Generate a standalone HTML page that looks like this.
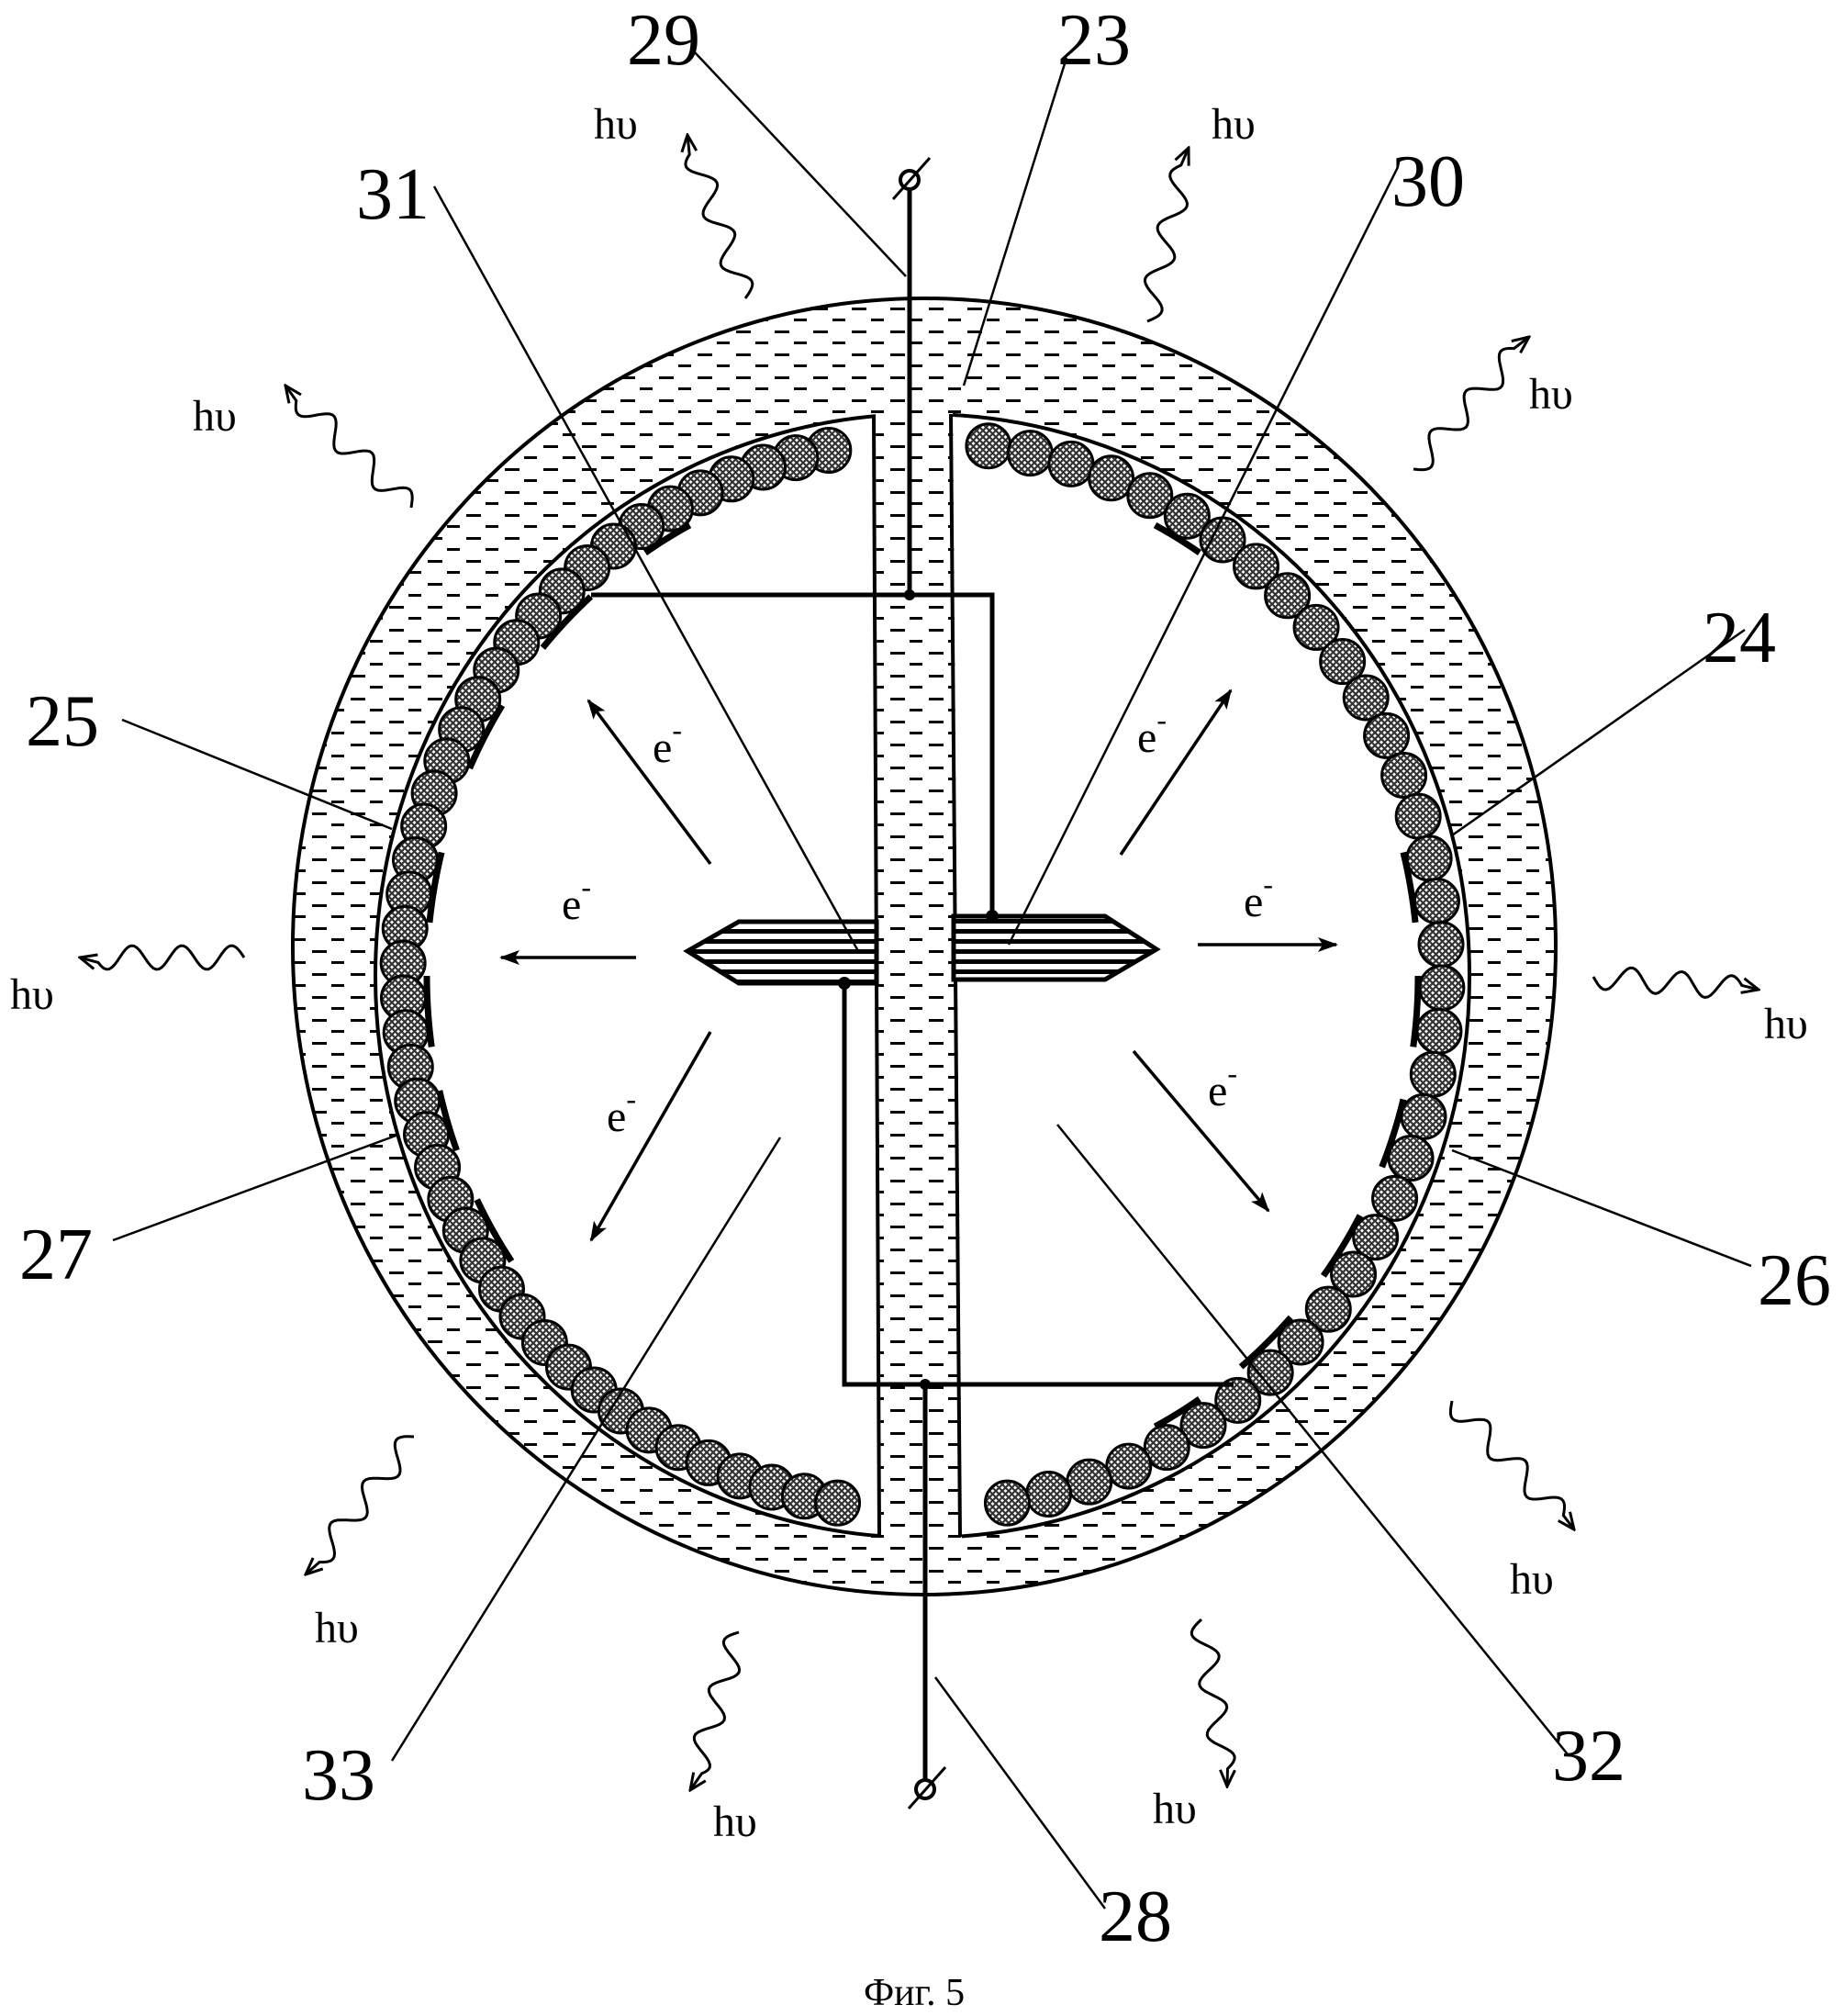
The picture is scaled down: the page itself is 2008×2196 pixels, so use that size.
<!DOCTYPE html>
<html><head><meta charset="utf-8"><style>
html,body{margin:0;padding:0;background:#fff}
svg{display:block}
text{font-family:"Liberation Serif",serif;fill:#000}
.n{font-size:80px}
.h{font-size:48px}
.e{font-size:48px}
</style></head><body>
<svg id="s" width="2008" height="2196" viewBox="0 0 2008 2196" xmlns="http://www.w3.org/2000/svg">
<defs>
<pattern id="dash" width="42" height="25" patternUnits="userSpaceOnUse">
<rect x="4" y="10" width="16" height="3" fill="#000"/>
<rect x="25" y="22" width="14" height="3" fill="#000"/>
</pattern>
<pattern id="xh" width="7" height="7" patternUnits="userSpaceOnUse">
<rect width="7" height="7" fill="#fff"/>
<path d="M0,0L7,7M7,0L0,7" stroke="#333" stroke-width="2.2"/>
</pattern>
<pattern id="hatch" width="20" height="11" patternUnits="userSpaceOnUse">
<rect width="20" height="11" fill="#fff"/>
<rect y="0" width="20" height="5" fill="#000"/>
</pattern>
<marker id="af" markerWidth="22" markerHeight="16" refX="20" refY="8" orient="auto" markerUnits="userSpaceOnUse">
<path d="M0,0L22,8L0,16L5,8Z" fill="#000"/>
</marker>
<marker id="aw" markerWidth="22" markerHeight="20" refX="20" refY="10" orient="auto" markerUnits="userSpaceOnUse">
<path d="M2,2L20,10L2,18" fill="none" stroke="#000" stroke-width="3"/>
</marker>
</defs>
<ellipse cx="1007" cy="1031" rx="688" ry="706" fill="url(#dash)" stroke="#000" stroke-width="4"/>
<ellipse cx="1005" cy="1063" rx="596" ry="612" fill="#fff" stroke="#000" stroke-width="4"/>
<polygon points="954,440 1038,440 1048,1690 960,1690" fill="#fff"/>
<polygon points="954,440 1038,440 1048,1690 960,1690" fill="url(#dash)"/>
<g stroke="#000" stroke-width="4">
<line x1="952" y1="452" x2="958" y2="1674"/>
<line x1="1036" y1="451" x2="1046" y2="1674"/>
</g>
<g id="grains"></g>
<path d="M749,1036 L805,1004 L955,1004 L955,1071 L805,1071 Z" fill="url(#hatch)" stroke="#000" stroke-width="5"/>
<path d="M1039,998 L1204,998 L1260,1034 L1204,1067 L1039,1067 Z" fill="url(#hatch)" stroke="#000" stroke-width="5"/>
<g stroke="#000" stroke-width="5" fill="none">
<polyline points="1081,998 1081,648 644,648"/>
<polyline points="920,1071 920,1508 1344,1508"/>
<line x1="991" y1="648" x2="991" y2="206"/>
<line x1="1008" y1="1508" x2="1008" y2="1939"/>
</g>
<circle cx="991" cy="648" r="6"/><circle cx="1081" cy="998" r="7"/><circle cx="920" cy="1071" r="7"/><circle cx="1008" cy="1508" r="6"/>
<circle cx="991" cy="196" r="10" fill="#fff" stroke="#000" stroke-width="4"/>
<line x1="973" y1="217" x2="1013" y2="172" stroke="#000" stroke-width="3"/>
<circle cx="1008" cy="1949" r="10" fill="#fff" stroke="#000" stroke-width="4"/>
<line x1="990" y1="1970" x2="1030" y2="1925" stroke="#000" stroke-width="3"/>
<g stroke="#000" stroke-width="2.5">
<line x1="756" y1="56" x2="987" y2="301"/>
<line x1="1162" y1="63" x2="1050" y2="420"/>
<line x1="473" y1="203" x2="935" y2="1036"/>
<line x1="1523" y1="182" x2="1099" y2="1029"/>
<line x1="1901" y1="686" x2="1582" y2="910"/>
<line x1="133" y1="784" x2="427" y2="903"/>
<line x1="123" y1="1351" x2="434" y2="1236"/>
<line x1="1908" y1="1379" x2="1582" y2="1253"/>
<line x1="427" y1="1918" x2="850" y2="1239"/>
<line x1="1708" y1="1911" x2="1152" y2="1225"/>
<line x1="1204" y1="2079" x2="1019" y2="1827"/>
</g>
<g stroke="#000" stroke-width="3.5" marker-end="url(#af)">
<line x1="774" y1="941" x2="641" y2="763"/>
<line x1="693" y1="1043" x2="546" y2="1043"/>
<line x1="774" y1="1124" x2="644" y2="1351"/>
<line x1="1221" y1="931" x2="1341" y2="752"/>
<line x1="1305" y1="1029" x2="1456" y2="1029"/>
<line x1="1235" y1="1145" x2="1382" y2="1319"/>
</g>
<g class="e">
<text x="711" y="830">e<tspan dy="-24" font-size="32">-</tspan></text>
<text x="612" y="1001">e<tspan dy="-24" font-size="32">-</tspan></text>
<text x="661" y="1232">e<tspan dy="-24" font-size="32">-</tspan></text>
<text x="1239" y="819">e<tspan dy="-24" font-size="32">-</tspan></text>
<text x="1355" y="998">e<tspan dy="-24" font-size="32">-</tspan></text>
<text x="1316" y="1204">e<tspan dy="-24" font-size="32">-</tspan></text>
</g>
<g id="waves" stroke="#000" stroke-width="3" fill="none"></g>
<g class="h">
<text x="647" y="151">hυ</text>
<text x="1320" y="151">hυ</text>
<text x="1666" y="445">hυ</text>
<text x="210" y="469">hυ</text>
<text x="11" y="1099">hυ</text>
<text x="1922" y="1131">hυ</text>
<text x="343" y="1789">hυ</text>
<text x="1645" y="1736">hυ</text>
<text x="777" y="2000">hυ</text>
<text x="1256" y="1986">hυ</text>
</g>
<g class="n">
<text x="683" y="70">29</text>
<text x="1152" y="70">23</text>
<text x="388" y="238">31</text>
<text x="1516" y="224">30</text>
<text x="1855" y="721">24</text>
<text x="28" y="812">25</text>
<text x="21" y="1393">27</text>
<text x="1915" y="1421">26</text>
<text x="329" y="1960">33</text>
<text x="1691" y="1939">32</text>
<text x="1197" y="2114">28</text>
</g>
<text x="941" y="2184" font-size="42">Фиг. 5</text>
</svg>
<script>
(function(){
var NS="http://www.w3.org/2000/svg";
var g=document.getElementById("grains");
var cx=1005,cy=1063,rx=566,ry=582;
function circ(a){var t=a*Math.PI/180;var c=document.createElementNS(NS,"circle");
c.setAttribute("cx",cx+rx*Math.cos(t));c.setAttribute("cy",cy+ry*Math.sin(t));c.setAttribute("r",24);
c.setAttribute("fill","url(#xh)");c.setAttribute("stroke","#000");c.setAttribute("stroke-width","3");g.appendChild(c);}
var n=44,a0=-100.4,a1=-260.6;
for(var i=0;i<n;i++)circ(a0+(a1-a0)*i/(n-1));
a0=-82.7;a1=80.6;
for(var i=0;i<n-8;i++)circ(a0+(a1-a0)*i/(n-9));
var bars=[[146,154],[160,167],[172,180],[186,194],[204,212],[220,228],[236,242],[-62,-56],[-14,-6],[0,8],[14,22],[28,36],[42,50],[56,62]];
bars.forEach(function(b){var r1=rx-26,r2=ry-26;var p="";
for(var a=b[0];a<=b[1];a+=1){var t=a*Math.PI/180;p+=(p?"L":"M")+(cx+r1*Math.cos(t))+","+(cy+r2*Math.sin(t));}
var e=document.createElementNS(NS,"path");e.setAttribute("d",p);e.setAttribute("stroke","#000");e.setAttribute("stroke-width","7");e.setAttribute("fill","none");g.appendChild(e);});
var w=document.getElementById("waves");
var L=[[812,325,749,147],[1250,350,1295,161],[1540,511,1666,367],[448,553,311,420],[266,1043,87,1043],[1736,1064,1916,1078],[451,1565,333,1715],[1582,1526,1715,1666],[805,1778,752,1950],[1309,1764,1337,1946]];
L.forEach(function(l){var dx=l[2]-l[0],dy=l[3]-l[1],len=Math.hypot(dx,dy),ux=dx/len,uy=dy/len,nx=-uy,ny=ux;
var p="";for(var s=0;s<=len-18;s+=3){var amp=13*Math.sin(s/len*2*Math.PI*3.3);
var x=l[0]+ux*s+nx*amp,y=l[1]+uy*s+ny*amp;p+=(p?"L":"M")+x.toFixed(1)+","+y.toFixed(1);}
p+="L"+l[2]+","+l[3];
var e=document.createElementNS(NS,"path");e.setAttribute("d",p);e.setAttribute("marker-end","url(#aw)");w.appendChild(e);});
})();
</script>
</body></html>
